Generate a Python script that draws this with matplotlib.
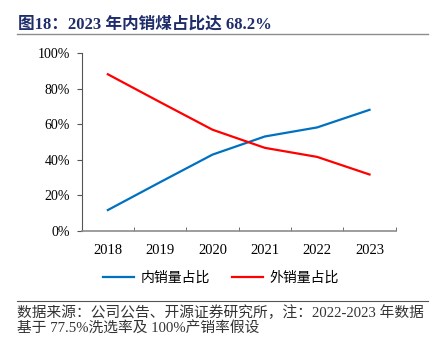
import matplotlib.pyplot as plt
from matplotlib.lines import Line2D
from matplotlib.ticker import FixedLocator, PercentFormatter

plt.rcParams['font.family'] = ['Liberation Serif', 'Noto Sans CJK SC', 'DejaVu Sans']

years = ['2018', '2019', '2020', '2021', '2022', '2023']
domestic = [11.8, 27.5, 43.0, 53.2, 58.3, 68.2]   # 内销量占比 %
export = [88.2, 72.5, 57.0, 46.8, 41.7, 31.8]     # 外销量占比 %

title = '图18：2023 年内销煤占比达 68.2%'
source = ['数据来源：公司公告、开源证券研究所，注：2022-2023 年数据',
          '基于 77.5%洗选率及 100%产销率假设']

fig = plt.figure(figsize=(4.38, 3.37), dpi=100)
ax = fig.add_axes([0.1865, 0.3145, 0.9034 - 0.1865, 0.8418 - 0.3145])

x = list(range(len(years)))
ax.plot(x, domestic, color='#0070C0', lw=1.6, label='内销量占比')
ax.plot(x, export, color='#FF0000', lw=1.6, label='外销量占比')

ax.set_xlim(-0.5, len(years) - 0.5)
ax.set_ylim(0, 100)
ax.set_xticks(x)
ax.set_xticklabels(years, fontsize=10.5)
ax.xaxis.set_minor_locator(FixedLocator([i - 0.5 for i in range(len(years) + 1)]))
ax.tick_params(axis='x', which='major', length=0, pad=9)
ax.tick_params(axis='x', which='minor', direction='in', length=3, color='#555555')
ax.set_yticks(range(0, 101, 20))
ax.yaxis.set_major_formatter(PercentFormatter(decimals=0))
ax.tick_params(axis='y', direction='out', length=3.5, pad=5, labelsize=10, color='#555555')

for s in ['top', 'right']:
    ax.spines[s].set_visible(False)
ax.spines['left'].set_color('#555555')
ax.spines['bottom'].set_color('#8c8c8c')
ax.spines['bottom'].set_linewidth(1.2)

ax.legend(loc='center', bbox_to_anchor=(0.505, 0.175), bbox_transform=fig.transFigure,
          ncol=2, frameon=False, handlelength=2.2, handletextpad=0.5,
          columnspacing=1.6, prop={'family': ['Noto Sans CJK SC'], 'size': 10})

fig.text(0.04, 1 - 25 / 337, title, fontsize=12, fontweight='bold', color='#1F2D6B', va='center')
fig.add_artist(Line2D([17 / 438, 428 / 438], [1 - 34 / 337] * 2, color='#8c8c8c', lw=1))
fig.add_artist(Line2D([17 / 438, 428 / 438], [1 - 301 / 337] * 2, color='#555555', lw=0.8))
fig.text(17 / 438, 1 - 313 / 337, source[0], fontsize=10.6, va='center', color='#333333')
fig.text(17 / 438, 1 - 329 / 337, source[1], fontsize=10.6, va='center', color='#333333')

fig.savefig('out.png', dpi=100)
